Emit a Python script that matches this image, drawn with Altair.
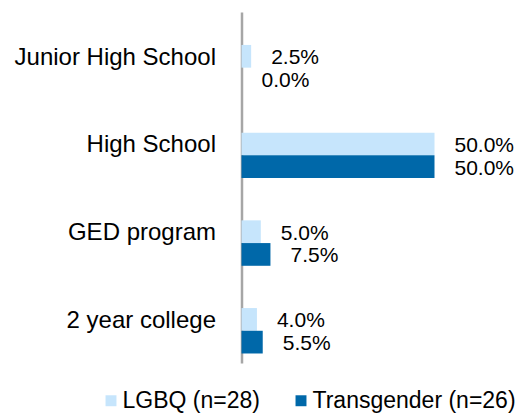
import altair as alt
import pandas as pd

categories = ["Junior High School", "High School", "GED program", "2 year college"]
series = ["LGBQ (n=28)", "Transgender (n=26)"]
lgbq_values = [2.5, 50.0, 5.0, 4.0]
trans_values = [0.0, 50.0, 7.5, 5.5]
colors = ["#C6E5FC", "#0068A9"]

rows = []
for cat, a, b in zip(categories, lgbq_values, trans_values):
    rows.append({"category": cat, "series": series[0], "value": a})
    rows.append({"category": cat, "series": series[1], "value": b})
df = pd.DataFrame(rows)
df["label"] = df["value"].map(lambda v: f"{v:.1f}%")

FONT = "Liberation Sans"

y_enc = alt.Y(
    "category:N",
    sort=categories,
    title=None,
    scale=alt.Scale(paddingInner=0.482, paddingOuter=0.242, align=0.776, round=False),
    axis=alt.Axis(
        domain=True, domainColor="#A6A6A6", domainWidth=2.5,
        ticks=True, tickSize=0, grid=False,
        labelFont=FONT, labelFontSize=24, labelColor="#000000",
        labelPadding=26, labelOffset=-10, labelLimit=400,
    ),
)
x_enc = alt.X("value:Q", scale=alt.Scale(domain=[0, 50], nice=False, zero=True), axis=None)
yoff = alt.YOffset("series:N", sort=series, scale=alt.Scale(paddingInner=0, paddingOuter=0))

bars = alt.Chart(df).mark_bar().encode(
    y=y_enc,
    x=x_enc,
    yOffset=yoff,
    color=alt.Color(
        "series:N",
        sort=series,
        scale=alt.Scale(domain=series, range=colors),
        legend=alt.Legend(
            title=None, orient="none", direction="horizontal",
            legendX=-142, legendY=377, padding=0,
            symbolType="square", symbolSize=120, symbolStrokeWidth=0,
            labelFont=FONT, labelFontSize=23, labelColor="#000000",
            labelOffset=0, columnPadding=29, labelLimit=400,
        ),
    ),
)

texts = alt.Chart(df).mark_text(
    align="left", baseline="middle", dx=20, dy=2,
    font=FONT, fontSize=21, color="#000000",
).encode(
    y=alt.Y("category:N", sort=categories),
    x=alt.X("value:Q"),
    yOffset=alt.YOffset("series:N", sort=series),
    text="label:N",
)

chart = alt.layer(bars, texts).properties(
    width=193,
    height=351,
    autosize=alt.AutoSizeParams(type="none"),
    padding={"left": 233.5, "top": 4, "right": 82.5, "bottom": 53},
).configure_view(stroke=None)

chart.save("out.html", embed_options={"renderer": "svg", "actions": False})
